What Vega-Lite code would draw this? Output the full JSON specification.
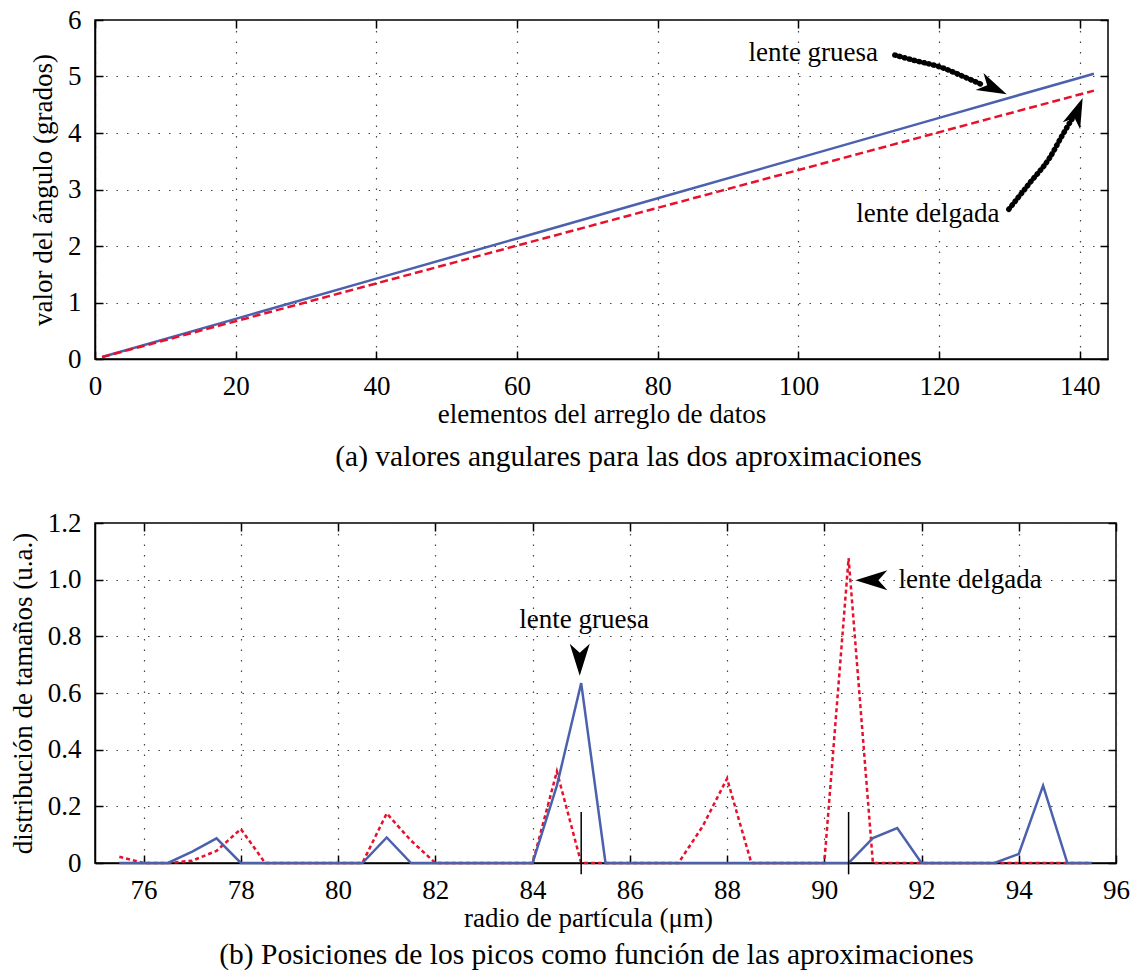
{
  "$schema": "https://vega.github.io/schema/vega-lite/v6.json",
  "background": "white",
  "padding": {"left": 8, "top": 5, "right": 5, "bottom": 5},
  "spacing": 35,
  "datasets": {
    "top": [
      {"x": 1, "y": 0.036, "s": "gruesa"}, {"x": 20, "y": 0.711, "s": "gruesa"}, {"x": 40, "y": 1.423, "s": "gruesa"},
      {"x": 60, "y": 2.134, "s": "gruesa"}, {"x": 80, "y": 2.845, "s": "gruesa"}, {"x": 100, "y": 3.556, "s": "gruesa"},
      {"x": 120, "y": 4.268, "s": "gruesa"}, {"x": 142, "y": 5.05, "s": "gruesa"},
      {"x": 1, "y": 0.033, "s": "delgada"}, {"x": 20, "y": 0.669, "s": "delgada"}, {"x": 40, "y": 1.338, "s": "delgada"},
      {"x": 60, "y": 2.007, "s": "delgada"}, {"x": 80, "y": 2.676, "s": "delgada"}, {"x": 100, "y": 3.345, "s": "delgada"},
      {"x": 120, "y": 4.014, "s": "delgada"}, {"x": 142, "y": 4.75, "s": "delgada"}
    ],
    "topText": [
      {"x": 102.1, "y": 5.27, "t": "lente gruesa"},
      {"x": 118.4, "y": 2.43, "t": "lente delgada"}
    ],
    "topCurves": [
      {"c": "g", "x": 113.7, "y": 5.38}, {"c": "g", "x": 116.3, "y": 5.29}, {"c": "g", "x": 120.1, "y": 5.17},
      {"c": "g", "x": 124.0, "y": 4.97}, {"c": "g", "x": 126.2, "y": 4.85},
      {"c": "d", "x": 129.9, "y": 2.65}, {"c": "d", "x": 132.9, "y": 3.12}, {"c": "d", "x": 135.7, "y": 3.56},
      {"c": "d", "x": 137.6, "y": 3.98}, {"c": "d", "x": 138.9, "y": 4.25}
    ],
    "topHeads": [
      {"h": "g", "x": 129.6, "y": 4.685},
      {"h": "d", "x": 140.4, "y": 4.62}
    ],
    "bot": [
      {"x": 75.5, "y": 0, "s": "g"}, {"x": 76, "y": 0, "s": "g"}, {"x": 76.5, "y": 0, "s": "g"}, {"x": 77, "y": 0.04, "s": "g"},
      {"x": 77.5, "y": 0.087, "s": "g"}, {"x": 78, "y": 0, "s": "g"}, {"x": 78.5, "y": 0, "s": "g"}, {"x": 79, "y": 0, "s": "g"},
      {"x": 79.5, "y": 0, "s": "g"}, {"x": 80, "y": 0, "s": "g"}, {"x": 80.5, "y": 0, "s": "g"}, {"x": 81, "y": 0.09, "s": "g"},
      {"x": 81.5, "y": 0, "s": "g"}, {"x": 82, "y": 0, "s": "g"}, {"x": 82.5, "y": 0, "s": "g"}, {"x": 83, "y": 0, "s": "g"},
      {"x": 83.5, "y": 0, "s": "g"}, {"x": 84, "y": 0, "s": "g"}, {"x": 84.5, "y": 0.273, "s": "g"}, {"x": 85, "y": 0.635, "s": "g"},
      {"x": 85.5, "y": 0, "s": "g"}, {"x": 86, "y": 0, "s": "g"}, {"x": 86.5, "y": 0, "s": "g"}, {"x": 87, "y": 0, "s": "g"},
      {"x": 87.5, "y": 0, "s": "g"}, {"x": 88, "y": 0, "s": "g"}, {"x": 88.5, "y": 0, "s": "g"}, {"x": 89, "y": 0, "s": "g"},
      {"x": 89.5, "y": 0, "s": "g"}, {"x": 90, "y": 0, "s": "g"}, {"x": 90.5, "y": 0, "s": "g"}, {"x": 91, "y": 0.088, "s": "g"},
      {"x": 91.5, "y": 0.123, "s": "g"}, {"x": 92, "y": 0, "s": "g"}, {"x": 92.5, "y": 0, "s": "g"}, {"x": 93, "y": 0, "s": "g"},
      {"x": 93.5, "y": 0, "s": "g"}, {"x": 94, "y": 0.032, "s": "g"}, {"x": 94.5, "y": 0.273, "s": "g"}, {"x": 95, "y": 0, "s": "g"},
      {"x": 95.5, "y": 0, "s": "g"},
      {"x": 75.5, "y": 0.022, "s": "d"}, {"x": 76, "y": 0, "s": "d"}, {"x": 76.5, "y": 0, "s": "d"}, {"x": 77, "y": 0.008, "s": "d"},
      {"x": 77.5, "y": 0.043, "s": "d"}, {"x": 78, "y": 0.12, "s": "d"}, {"x": 78.5, "y": 0, "s": "d"}, {"x": 79, "y": 0, "s": "d"},
      {"x": 79.5, "y": 0, "s": "d"}, {"x": 80, "y": 0, "s": "d"}, {"x": 80.5, "y": 0, "s": "d"}, {"x": 81, "y": 0.175, "s": "d"},
      {"x": 81.5, "y": 0.079, "s": "d"}, {"x": 82, "y": 0, "s": "d"}, {"x": 82.5, "y": 0, "s": "d"}, {"x": 83, "y": 0, "s": "d"},
      {"x": 83.5, "y": 0, "s": "d"}, {"x": 84, "y": 0, "s": "d"}, {"x": 84.5, "y": 0.323, "s": "d"}, {"x": 85, "y": 0, "s": "d"},
      {"x": 85.5, "y": 0, "s": "d"}, {"x": 86, "y": 0, "s": "d"}, {"x": 86.5, "y": 0, "s": "d"}, {"x": 87, "y": 0, "s": "d"},
      {"x": 87.5, "y": 0.13, "s": "d"}, {"x": 88, "y": 0.298, "s": "d"}, {"x": 88.5, "y": 0, "s": "d"}, {"x": 89, "y": 0, "s": "d"},
      {"x": 89.5, "y": 0, "s": "d"}, {"x": 90, "y": 0, "s": "d"}, {"x": 90.5, "y": 1.076, "s": "d"}, {"x": 91, "y": 0, "s": "d"},
      {"x": 91.5, "y": 0, "s": "d"}, {"x": 92, "y": 0, "s": "d"}, {"x": 92.5, "y": 0, "s": "d"}, {"x": 93, "y": 0, "s": "d"},
      {"x": 93.5, "y": 0, "s": "d"}, {"x": 94, "y": 0, "s": "d"}, {"x": 94.5, "y": 0, "s": "d"}, {"x": 95, "y": 0, "s": "d"},
      {"x": 95.5, "y": 0, "s": "d"}
    ],
    "botRules": [
      {"x": 85, "y": -0.04, "y2": 0.18},
      {"x": 90.5, "y": -0.04, "y2": 0.18}
    ],
    "botText": [
      {"x": 85.06, "y": 0.831, "t": "lente gruesa"},
      {"x": 93.0, "y": 0.972, "t": "lente delgada"}
    ],
    "botHeads": [
      {"h": "g", "x": 84.97, "y": 0.661},
      {"h": "d", "x": 90.64, "y": 0.998}
    ]
  },
  "vconcat": [
    {
      "width": 1013,
      "height": 339,
      "title": {"text": "(a) valores angulares para las dos aproximaciones", "orient": "bottom", "offset": 16, "dx": 27},
      "layer": [
        {
          "layer": [
            {
              "data": {"name": "top"},
              "transform": [{"filter": "datum.s === 'gruesa'"}],
              "mark": {"type": "line", "color": "#4b61ad", "strokeWidth": 2.5},
              "encoding": {
                "x": {"field": "x", "type": "quantitative", "scale": {"domain": [0, 144], "nice": false, "zero": false},
                      "axis": {"values": [0, 20, 40, 60, 80, 100, 120, 140], "format": "d", "title": "elementos del arreglo de datos"}},
                "y": {"field": "y", "type": "quantitative", "scale": {"domain": [0, 6], "nice": false},
                      "axis": {"values": [0, 1, 2, 3, 4, 5, 6], "format": "d", "title": "valor del ángulo (grados)"}}
              }
            },
            {
              "data": {"name": "top"},
              "transform": [{"filter": "datum.s === 'delgada'"}],
              "mark": {"type": "line", "color": "#e8112d", "strokeWidth": 2.5, "strokeDash": [8, 4]},
              "encoding": {
                "x": {"field": "x", "type": "quantitative"},
                "y": {"field": "y", "type": "quantitative"}
              }
            },
            {
              "data": {"name": "topCurves"},
              "mark": {"type": "line", "color": "black", "strokeWidth": 5.5, "strokeDash": [0.5, 4.5], "strokeCap": "round", "interpolate": "monotone"},
              "encoding": {
                "x": {"field": "x", "type": "quantitative"},
                "y": {"field": "y", "type": "quantitative"},
                "detail": {"field": "c"}
              }
            },
            {
              "data": {"name": "topHeads"},
              "transform": [{"filter": "datum.h === 'g'"}],
              "mark": {"type": "point", "shape": "M0,0 L0.5,1.6 L0,1.15 L-0.5,1.6 Z", "size": 1406, "filled": true, "color": "black", "opacity": 1, "angle": 115},
              "encoding": {
                "x": {"field": "x", "type": "quantitative"},
                "y": {"field": "y", "type": "quantitative"}
              }
            },
            {
              "data": {"name": "topHeads"},
              "transform": [{"filter": "datum.h === 'd'"}],
              "mark": {"type": "point", "shape": "M0,0 L0.5,1.6 L0,1.15 L-0.5,1.6 Z", "size": 1406, "filled": true, "color": "black", "opacity": 1, "angle": 22},
              "encoding": {
                "x": {"field": "x", "type": "quantitative"},
                "y": {"field": "y", "type": "quantitative"}
              }
            },
            {
              "data": {"name": "topText"},
              "mark": {"type": "text", "font": "Liberation Serif", "fontSize": 27, "align": "center", "baseline": "alphabetic", "color": "black"},
              "encoding": {
                "x": {"field": "x", "type": "quantitative"},
                "y": {"field": "y", "type": "quantitative"},
                "text": {"field": "t"}
              }
            }
          ]
        },
        {
          "data": {"name": "top"},
          "mark": {"type": "point", "opacity": 0},
          "encoding": {
            "x": {"field": "x", "type": "quantitative", "scale": {"domain": [0, 144], "nice": false, "zero": false},
                  "axis": {"orient": "top", "values": [0, 20, 40, 60, 80, 100, 120, 140], "labels": false, "domain": false, "grid": false, "title": null}},
            "y": {"field": "y", "type": "quantitative", "scale": {"domain": [0, 6], "nice": false},
                  "axis": {"orient": "right", "values": [0, 1, 2, 3, 4, 5, 6], "labels": false, "domain": false, "grid": false, "title": null}}
          }
        }
      ],
      "resolve": {"axis": {"x": "independent", "y": "independent"}}
    },
    {
      "width": 1021,
      "height": 340,
      "title": {"text": "(b) Posiciones de los picos como función de las aproximaciones", "orient": "bottom", "offset": 10, "dx": -9},
      "layer": [
        {
          "layer": [
            {
              "data": {"name": "bot"},
              "transform": [{"filter": "datum.s === 'd'"}],
              "mark": {"type": "line", "color": "#e8112d", "strokeWidth": 2.5, "strokeDash": [4, 3]},
              "encoding": {
                "x": {"field": "x", "type": "quantitative", "scale": {"domain": [75, 96], "nice": false, "zero": false},
                      "axis": {"values": [76, 78, 80, 82, 84, 86, 88, 90, 92, 94, 96], "format": "d", "title": "radio de partícula (μm)", "titleX": 493}},
                "y": {"field": "y", "type": "quantitative", "scale": {"domain": [0, 1.2], "nice": false},
                      "axis": {"values": [0, 0.2, 0.4, 0.6, 0.8, 1.0, 1.2], "labelExpr": "datum.value === 0 ? '0' : format(datum.value, '.1f')", "title": "distribución de tamaños (u.a.)"}}
              }
            },
            {
              "data": {"name": "bot"},
              "transform": [{"filter": "datum.s === 'g'"}],
              "mark": {"type": "line", "color": "#4b61ad", "strokeWidth": 2.5},
              "encoding": {
                "x": {"field": "x", "type": "quantitative"},
                "y": {"field": "y", "type": "quantitative"}
              }
            },
            {
              "data": {"name": "botRules"},
              "mark": {"type": "rule", "color": "black", "strokeWidth": 1.5},
              "encoding": {
                "x": {"field": "x", "type": "quantitative"},
                "y": {"field": "y", "type": "quantitative"},
                "y2": {"field": "y2"}
              }
            },
            {
              "data": {"name": "botHeads"},
              "transform": [{"filter": "datum.h === 'g'"}],
              "mark": {"type": "point", "shape": "M0,0 L0.5,1.6 L0,1.15 L-0.5,1.6 Z", "size": 1600, "filled": true, "color": "black", "opacity": 1, "angle": 180},
              "encoding": {
                "x": {"field": "x", "type": "quantitative"},
                "y": {"field": "y", "type": "quantitative"}
              }
            },
            {
              "data": {"name": "botHeads"},
              "transform": [{"filter": "datum.h === 'd'"}],
              "mark": {"type": "point", "shape": "M0,0 L0.5,1.6 L0,1.15 L-0.5,1.6 Z", "size": 1600, "filled": true, "color": "black", "opacity": 1, "angle": 270},
              "encoding": {
                "x": {"field": "x", "type": "quantitative"},
                "y": {"field": "y", "type": "quantitative"}
              }
            },
            {
              "data": {"name": "botText"},
              "mark": {"type": "text", "font": "Liberation Serif", "fontSize": 27, "align": "center", "baseline": "alphabetic", "color": "black"},
              "encoding": {
                "x": {"field": "x", "type": "quantitative"},
                "y": {"field": "y", "type": "quantitative"},
                "text": {"field": "t"}
              }
            }
          ]
        },
        {
          "data": {"name": "bot"},
          "mark": {"type": "point", "opacity": 0},
          "encoding": {
            "x": {"field": "x", "type": "quantitative", "scale": {"domain": [75, 96], "nice": false, "zero": false},
                  "axis": {"orient": "top", "values": [76, 78, 80, 82, 84, 86, 88, 90, 92, 94, 96], "labels": false, "domain": false, "grid": false, "title": null}},
            "y": {"field": "y", "type": "quantitative", "scale": {"domain": [0, 1.2], "nice": false},
                  "axis": {"orient": "right", "values": [0, 0.2, 0.4, 0.6, 0.8, 1.0, 1.2], "labels": false, "domain": false, "grid": false, "title": null}}
          }
        }
      ],
      "resolve": {"axis": {"x": "independent", "y": "independent"}}
    }
  ],
  "config": {
    "font": "Liberation Serif",
    "view": {"stroke": "black", "strokeWidth": 1.5},
    "axis": {
      "labelFont": "Liberation Serif", "labelFontSize": 27, "labelColor": "black",
      "titleFont": "Liberation Serif", "titleFontSize": 27, "titleFontWeight": "normal", "titleColor": "black",
      "domainColor": "black", "domainWidth": 1.5,
      "tickColor": "black", "tickWidth": 1.5, "tickSize": -8,
      "labelPadding": 22, "labelFlush": false, "labelOverlap": false,
      "grid": true, "gridColor": "#444444", "gridDash": [1.5, 9], "gridWidth": 1.2
    },
    "axisX": {"titlePadding": 2},
    "axisY": {"titlePadding": 10},
    "title": {"font": "Liberation Serif", "fontSize": 29.5, "fontWeight": "normal", "color": "black"}
  }
}
